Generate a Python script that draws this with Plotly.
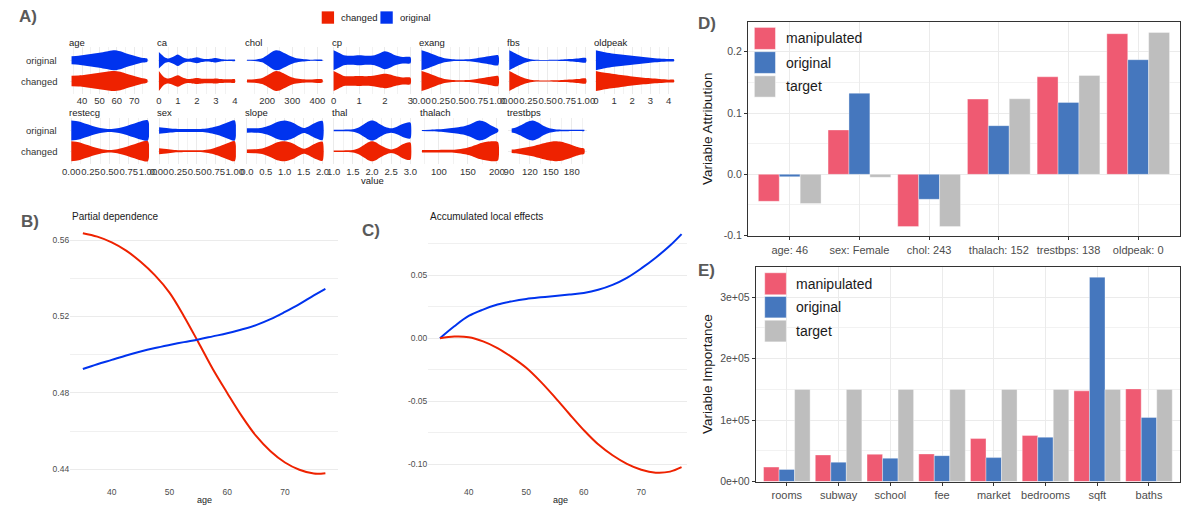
import plotly.graph_objects as go

# ======================= DATA =======================
# ---- Panel A: violin half-width profiles (relative)
age_x = [34, 38, 42, 46, 50, 54, 58, 62, 66, 70, 74, 77.5]
age_original = [0.4, 0.45, 0.55, 0.65, 0.75, 0.88, 1.0, 0.9, 0.65, 0.45, 0.25, 0.15]
age_changed = [0.53, 0.55, 0.62, 0.72, 0.82, 0.92, 1.0, 0.92, 0.7, 0.5, 0.3, 0.15]

ca_x = [0, 0.15, 0.3, 0.5, 0.75, 1.0, 1.25, 1.5, 1.75, 2.0, 2.25, 2.5, 2.75, 3.0, 3.25, 3.5, 3.75, 4.0]
ca_original = [0.83, 0.55, 0.3, 0.17, 0.35, 0.58, 0.3, 0.15, 0.2, 0.3, 0.18, 0.12, 0.16, 0.22, 0.12, 0.07, 0.07, 0.07]
ca_changed = [1.0, 0.62, 0.35, 0.25, 0.4, 0.57, 0.35, 0.2, 0.24, 0.3, 0.24, 0.22, 0.22, 0.25, 0.2, 0.17, 0.17, 0.17]

chol_x = [120, 150, 180, 200, 220, 235, 250, 270, 290, 310, 340, 370, 420]
chol_original = [0.05, 0.06, 0.2, 0.5, 0.85, 1.0, 0.95, 0.7, 0.45, 0.25, 0.12, 0.06, 0.05]
chol_changed = [0.15, 0.17, 0.3, 0.55, 0.85, 1.0, 0.95, 0.7, 0.45, 0.28, 0.18, 0.15, 0.15]

cp_x = [0, 0.2, 0.4, 0.7, 1.0, 1.3, 1.6, 1.8, 2.0, 2.2, 2.4, 2.7, 3.0]
cp_original = [1.0, 0.75, 0.5, 0.45, 0.5, 0.45, 0.5, 0.7, 0.9, 0.75, 0.5, 0.33, 0.3]
cp_changed = [1.0, 0.75, 0.5, 0.48, 0.5, 0.48, 0.55, 0.65, 0.72, 0.65, 0.5, 0.35, 0.32]

exang_x = [0, 0.1, 0.2, 0.3, 0.4, 0.5, 0.6, 0.7, 0.8, 0.9, 1.0]
exang_original = [1.0, 0.75, 0.45, 0.2, 0.1, 0.08, 0.1, 0.18, 0.3, 0.42, 0.5]
exang_changed = [1.0, 0.75, 0.45, 0.2, 0.1, 0.07, 0.1, 0.18, 0.3, 0.42, 0.5]

fbs_x = [0, 0.1, 0.2, 0.3, 0.4, 0.5, 0.6, 0.7, 0.8, 0.9, 1.0]
fbs_original = [1.0, 0.6, 0.25, 0.08, 0.04, 0.04, 0.05, 0.08, 0.12, 0.17, 0.22]
fbs_changed = [1.0, 0.6, 0.27, 0.1, 0.06, 0.06, 0.08, 0.11, 0.15, 0.2, 0.25]

oldpeak_x = [0, 0.5, 1, 1.5, 2, 2.5, 3, 3.5, 4, 4.3]
oldpeak_original = [1.0, 0.8, 0.65, 0.55, 0.45, 0.35, 0.25, 0.17, 0.12, 0.1]
oldpeak_changed = [1.0, 0.82, 0.7, 0.57, 0.45, 0.35, 0.27, 0.2, 0.14, 0.12]

restecg_x = [0, 0.1, 0.2, 0.3, 0.4, 0.5, 0.6, 0.7, 0.8, 0.9, 1.0]
restecg_original = [1.0, 0.9, 0.65, 0.4, 0.22, 0.15, 0.22, 0.4, 0.65, 0.9, 1.0]
restecg_changed = [1.0, 0.9, 0.65, 0.4, 0.2, 0.12, 0.2, 0.4, 0.65, 0.9, 1.0]

sex_x = [0, 0.1, 0.2, 0.3, 0.4, 0.5, 0.6, 0.7, 0.8, 0.9, 1.0]
sex_original = [0.33, 0.25, 0.17, 0.15, 0.15, 0.15, 0.17, 0.3, 0.5, 0.8, 1.0]
sex_changed = [0.3, 0.22, 0.12, 0.1, 0.09, 0.09, 0.12, 0.25, 0.5, 0.8, 1.0]

slope_x = [0, 0.2, 0.4, 0.6, 0.8, 1.0, 1.2, 1.4, 1.5, 1.6, 1.8, 2.0]
slope_original = [0.22, 0.22, 0.28, 0.5, 0.85, 1.0, 0.8, 0.4, 0.25, 0.35, 0.75, 0.95]
slope_changed = [0.18, 0.2, 0.28, 0.55, 0.9, 1.0, 0.8, 0.4, 0.25, 0.35, 0.75, 0.95]

thal_x = [1.0, 1.25, 1.5, 1.65, 1.8, 1.9, 2.0, 2.1, 2.2, 2.35, 2.5, 2.65, 2.8, 3.0]
thal_original = [0.08, 0.08, 0.12, 0.3, 0.65, 0.9, 1.0, 0.9, 0.65, 0.35, 0.22, 0.38, 0.65, 0.8]
thal_changed = [0.08, 0.08, 0.12, 0.3, 0.65, 0.9, 1.0, 0.9, 0.65, 0.35, 0.18, 0.35, 0.7, 0.87]

thalach_x = [71, 85, 100, 115, 130, 145, 155, 162, 170, 180, 190, 197, 202]
thalach_original = [0.05, 0.08, 0.12, 0.2, 0.3, 0.45, 0.65, 0.85, 1.0, 0.85, 0.5, 0.3, 0.12]
thalach_changed = [0.13, 0.13, 0.13, 0.14, 0.17, 0.3, 0.45, 0.6, 0.78, 0.92, 1.0, 1.0, 0.9]

trestbps_x = [94, 100, 108, 116, 124, 132, 140, 148, 156, 165, 175, 185, 192, 198]
trestbps_original = [0.2, 0.3, 0.55, 0.85, 1.0, 0.8, 0.45, 0.22, 0.12, 0.08, 0.07, 0.06, 0.06, 0.06]
trestbps_changed = [0.17, 0.2, 0.3, 0.4, 0.5, 0.65, 0.8, 0.93, 1.0, 0.95, 0.75, 0.5, 0.35, 0.25]

# ---- Panel B: partial dependence
pd_age = [35, 37.5, 40, 42.5, 45, 47.5, 50, 52.5, 55, 57.5, 60, 62.5, 65, 67.5, 70, 72.5, 75, 77]
pd_changed = [0.5636, 0.5618, 0.5588, 0.5545, 0.5486, 0.5415, 0.5325, 0.5202, 0.5065, 0.4925,
              0.4800, 0.4680, 0.4575, 0.4495, 0.4436, 0.4398, 0.4378, 0.4380]
pd_original = [0.4925, 0.4950, 0.4973, 0.4996, 0.5017, 0.5035, 0.5051, 0.5066, 0.5080, 0.5096,
               0.5112, 0.5132, 0.5155, 0.5186, 0.5224, 0.5265, 0.5311, 0.5345]

# ---- Panel C: accumulated local effects
ale_age = [35, 37.5, 40, 42.5, 45, 47.5, 50, 52.5, 55, 57.5, 60, 62.5, 65, 67.5, 70, 72.5, 75, 77]
ale_original = [0.0, 0.0095, 0.0177, 0.0228, 0.0268, 0.0293, 0.0312, 0.0325, 0.0336, 0.0347,
                0.036, 0.0385, 0.0424, 0.048, 0.0555, 0.064, 0.0737, 0.0828]
ale_changed = [0.0, 0.0013, 0.0008, -0.0025, -0.0078, -0.0150, -0.0235, -0.0345, -0.0470, -0.0602,
               -0.0730, -0.0843, -0.0930, -0.0998, -0.1045, -0.1068, -0.1060, -0.1025]

# ---- Panel D: variable attribution
d_features = ["age: 46", "sex: Female", "chol: 243", "thalach: 152", "trestbps: 138", "oldpeak: 0"]
d_manipulated = [-0.044, 0.0724, -0.0853, 0.1228, 0.1592, 0.2295]
d_original = [-0.0038, 0.1324, -0.0407, 0.0794, 0.1174, 0.1871]
d_target = [-0.0477, -0.0048, -0.0853, 0.1233, 0.1614, 0.2316]

# ---- Panel E: variable importance
e_features = ["rooms", "subway", "school", "fee", "market", "bedrooms", "sqft", "baths"]
e_manipulated = [23500, 43300, 44400, 44900, 70000, 74900, 147600, 150800]
e_original = [19800, 31500, 38000, 42200, 39000, 72200, 332600, 104300]
e_target = [150000, 150000, 150000, 150000, 150000, 150000, 150000, 150000]

# ======================= STYLE / LAYOUT =======================
W, H = 1189, 509
FONT = "Liberation Sans, Arial, sans-serif"
RED, BLUE = "#EE2200", "#0033EE"
C_MANIP, C_ORIG, C_TARGET = "#EF5A72", "#4577BE", "#BEBEBE"
GRID = "#EBEBEB"
HW = 0.48  # violin max half-width (y units)


def xd(a, b):
    return [a / W, b / W]


def yd(top, bottom):
    return [1 - bottom / H, 1 - top / H]


def px(x):
    return x / W


def py(y):
    return 1 - y / H


profiles = {
    "age": (age_x, age_original, age_changed),
    "ca": (ca_x, ca_original, ca_changed),
    "chol": (chol_x, chol_original, chol_changed),
    "cp": (cp_x, cp_original, cp_changed),
    "exang": (exang_x, exang_original, exang_changed),
    "fbs": (fbs_x, fbs_original, fbs_changed),
    "oldpeak": (oldpeak_x, oldpeak_original, oldpeak_changed),
    "restecg": (restecg_x, restecg_original, restecg_changed),
    "sex": (sex_x, sex_original, sex_changed),
    "slope": (slope_x, slope_original, slope_changed),
    "thal": (thal_x, thal_original, thal_changed),
    "thalach": (thalach_x, thalach_original, thalach_changed),
    "trestbps": (trestbps_x, trestbps_original, trestbps_changed),
}

q = ["0.00", "0.25", "0.50", "0.75", "1.00"]
qv = [0, 0.25, 0.5, 0.75, 1]
# name, row, left px, right px, range, tickvals, ticktext, minor dtick
facets = [
    ("age", 0, 63, 143, [33.2, 78.5], [40, 50, 60, 70], None, 5),
    ("ca", 0, 152, 231, [-0.05, 4.05], [0, 1, 2, 3, 4], None, 0.5),
    ("chol", 0, 241, 320, [115, 425], [200, 300, 400], None, 50),
    ("cp", 0, 329, 409, [-0.04, 3.04], [0, 1, 2, 3], None, 0.5),
    ("exang", 0, 418, 498, [-0.015, 1.015], qv, q, 0.125),
    ("fbs", 0, 507, 587, [-0.015, 1.015], qv, q, 0.125),
    ("oldpeak", 0, 595, 676, [-0.05, 4.35], [0, 1, 2, 3, 4], None, 0.5),
    ("restecg", 1, 63, 143, [-0.015, 1.015], qv, q, 0.125),
    ("sex", 1, 152, 231, [-0.015, 1.015], qv, q, 0.125),
    ("slope", 1, 241, 320, [-0.03, 2.03], [0, 0.5, 1, 1.5, 2], ["0.0", "0.5", "1.0", "1.5", "2.0"], 0.25),
    ("thal", 1, 329, 409, [0.97, 3.03], [1, 1.5, 2, 2.5, 3], ["1.0", "1.5", "2.0", "2.5", "3.0"], 0.25),
    ("thalach", 1, 419, 498, [70, 204], [100, 150, 200], None, 25),
    ("trestbps", 1, 507, 587, [89, 202], [90, 120, 150, 180], None, 15),
]

fig = go.Figure()
lay = dict(
    width=W, height=H, margin=dict(l=0, r=0, t=0, b=0),
    paper_bgcolor="white", plot_bgcolor="white", showlegend=False,
    font=dict(family=FONT, size=10, color="#333333"),
    barmode="group", bargap=0.1, bargroupgap=0,
)
annotations = []
shapes = []


def ann(text, x, y, size, color="#1A1A1A", xanchor="left", yanchor="middle", angle=0):
    annotations.append(dict(text=text, x=px(x), y=py(y), xref="paper", yref="paper",
                            showarrow=False, xanchor=xanchor, yanchor=yanchor, textangle=angle,
                            font=dict(family=FONT, size=size, color=color)))


# ---------------- Panel A ----------------
for i, (name, row, l, r, rng, tv, tt, mdt) in enumerate(facets):
    n = i + 1
    xs_key = "xaxis" if n == 1 else f"xaxis{n}"
    ys_key = "yaxis" if n == 1 else f"yaxis{n}"
    xref = "x" if n == 1 else f"x{n}"
    yref = "y" if n == 1 else f"y{n}"
    top = 48 + row * 71
    lay[xs_key] = dict(domain=xd(l, r), range=rng, anchor=yref, tickvals=tv,
                       ticktext=tt if tt else [str(v) for v in tv], tickangle=0,
                       ticks="", showline=False, zeroline=False, showgrid=True,
                       gridcolor=GRID, gridwidth=0.8,
                       minor=dict(dtick=mdt, tick0=tv[0], showgrid=True, gridcolor="#F2F2F2", gridwidth=0.6),
                       tickfont=dict(family=FONT, size=9.5, color="#333333"))
    lay[ys_key] = dict(domain=yd(top, top + 47), range=[0.38, 2.62], anchor=xref,
                       tickvals=[1, 2], showticklabels=False, ticks="", zeroline=False,
                       showgrid=True, gridcolor=GRID, gridwidth=0.6)
    xv, wo, wc = profiles[name]
    for vals, center, color in [(wo, 2, BLUE), (wc, 1, RED)]:
        xs = list(xv) + list(xv)[::-1]
        ys = [center + HW * w for w in vals] + [center - HW * w for w in vals[::-1]]
        fig.add_trace(go.Scatter(x=xs, y=ys, mode="lines", fill="toself", fillcolor=color,
                                 line=dict(width=0, color=color, shape="spline", smoothing=0.8),
                                 xaxis=xref, yaxis=yref, hoverinfo="skip"))
    ann(name, l - 3, 43 + row * 71, 9.5)
    if l < 100:
        ann("original", 52, 61 + row * 71, 9.5, "#333333", xanchor="right")
        ann("changed", 52, 82 + row * 71, 9.5, "#333333", xanchor="right")

ann("value", 369, 183, 9.5, xanchor="center")
# legend A
shapes.append(dict(type="rect", xref="paper", yref="paper", x0=px(318), x1=px(330.5), y0=py(24), y1=py(11.5),
                   fillcolor=RED, line=dict(width=0)))
ann("changed", 336, 18, 9.5)
shapes.append(dict(type="rect", xref="paper", yref="paper", x0=px(377.5), x1=px(390), y0=py(24), y1=py(11.5),
                   fillcolor=BLUE, line=dict(width=0)))
ann("original", 395, 18, 9.5)

# ---------------- Panel B ----------------
lay["xaxis14"] = dict(domain=xd(63, 334), range=[32.8, 79.1], anchor="y14", tickvals=[40, 50, 60, 70],
                      ticks="", showgrid=False, zeroline=False, showline=False,
                      tickfont=dict(family=FONT, size=8.5, color="#4D4D4D"))
lay["yaxis14"] = dict(domain=yd(224, 491), range=[0.4317, 0.5698], anchor="x14",
                      tickvals=[0.44, 0.48, 0.52, 0.56], ticktext=["0.44", "0.48", "0.52", "0.56"],
                      ticks="", showgrid=True, gridcolor=GRID, gridwidth=1, zeroline=False,
                      minor=dict(tickvals=[0.46, 0.50, 0.54], showgrid=True, gridcolor="#F0F0F0", gridwidth=0.8),
                      tickfont=dict(family=FONT, size=8.5, color="#4D4D4D"))
fig.add_trace(go.Scatter(x=pd_age, y=pd_changed, mode="lines", line=dict(color=RED, width=2, shape="spline"),
                         xaxis="x14", yaxis="y14"))
fig.add_trace(go.Scatter(x=pd_age, y=pd_original, mode="lines", line=dict(color=BLUE, width=2, shape="spline"),
                         xaxis="x14", yaxis="y14"))
ann("Partial dependence", 63, 219, 10)
ann("age", 199, 506, 9, xanchor="center")

# ---------------- Panel C ----------------
lay["xaxis15"] = dict(domain=xd(426, 688), range=[32.97, 77.9], anchor="y15", tickvals=[40, 50, 60, 70],
                      ticks="", showgrid=False, zeroline=False, showline=False,
                      tickfont=dict(family=FONT, size=8.5, color="#4D4D4D"))
lay["yaxis15"] = dict(domain=yd(224, 491), range=[-0.1168, 0.0929], anchor="x15",
                      tickvals=[-0.1, -0.05, 0, 0.05], ticktext=["-0.10", "-0.05", "0.00", "0.05"],
                      ticks="", showgrid=True, gridcolor=GRID, gridwidth=1, zeroline=False,
                      minor=dict(tickvals=[-0.075, -0.025, 0.025, 0.075], showgrid=True, gridcolor="#F0F0F0",
                                 gridwidth=0.8),
                      tickfont=dict(family=FONT, size=8.5, color="#4D4D4D"))
fig.add_trace(go.Scatter(x=ale_age, y=ale_original, mode="lines", line=dict(color=BLUE, width=2, shape="spline"),
                         xaxis="x15", yaxis="y15"))
fig.add_trace(go.Scatter(x=ale_age, y=ale_changed, mode="lines", line=dict(color=RED, width=2, shape="spline"),
                         xaxis="x15", yaxis="y15"))
ann("Accumulated local effects", 426, 219, 10)
ann("age", 560, 506, 9, xanchor="center")

# ---------------- Panels D & E ----------------
frame_axis = dict(showline=True, mirror=True, linecolor="#333333", linewidth=1, ticks="outside", ticklen=3,
                  tickcolor="#333333", tickwidth=1, zeroline=False, showgrid=True, gridcolor=GRID, gridwidth=1)
lay["xaxis16"] = dict(frame_axis, domain=xd(750, 1188), range=[-0.6, 5.6], anchor="y16", type="category",
                      tickangle=0, tickfont=dict(family=FONT, size=11, color="#4D4D4D"))
lay["yaxis16"] = dict(frame_axis, domain=yd(22.7, 239.3), range=[-0.1014, 0.2479], anchor="x16",
                      tickvals=[-0.1, 0, 0.1, 0.2], ticktext=["-0.1", "0.0", "0.1", "0.2"],
                      minor=dict(tickvals=[-0.05, 0.05, 0.15], showgrid=True, gridcolor="#F2F2F2", gridwidth=0.7),
                      tickfont=dict(family=FONT, size=10.5, color="#4D4D4D"))
lay["xaxis17"] = dict(frame_axis, domain=xd(758, 1188), range=[-0.6, 7.6], anchor="y17", type="category",
                      tickangle=0, tickfont=dict(family=FONT, size=11, color="#4D4D4D"))
lay["yaxis17"] = dict(frame_axis, domain=yd(270, 487.3), range=[0, 349500], anchor="x17",
                      tickvals=[0, 100000, 200000, 300000], ticktext=["0e+00", "1e+05", "2e+05", "3e+05"],
                      minor=dict(tickvals=[50000, 150000, 250000], showgrid=True, gridcolor="#F2F2F2", gridwidth=0.7),
                      tickfont=dict(family=FONT, size=10.5, color="#4D4D4D"))

bar_line = dict(color="rgba(255,255,255,0.45)", width=0.8)
for cats, series, ax in [(d_features, [d_manipulated, d_original, d_target], "16"),
                         (e_features, [e_manipulated, e_original, e_target], "17")]:
    for vals, color, grp in zip(series, [C_MANIP, C_ORIG, C_TARGET], ["m", "o", "t"]):
        fig.add_trace(go.Bar(x=cats, y=vals, marker=dict(color=color, line=bar_line),
                             offsetgroup=grp, xaxis="x" + ax, yaxis="y" + ax))

# manual legends D / E
for (kx0, kx1, tx, rows) in [
    (756.5, 778, 787, [(27.7, 50, "manipulated", C_MANIP), (52.3, 74.3, "original", C_ORIG),
                       (76.7, 98.3, "target", C_TARGET)]),
    (767, 789, 797, [(276, 298.3, "manipulated", C_MANIP), (300, 321.7, "original", C_ORIG),
                     (324, 346, "target", C_TARGET)]),
]:
    for (t, b, label, color) in rows:
        shapes.append(dict(type="rect", xref="paper", yref="paper", x0=px(kx0), x1=px(kx1), y0=py(b), y1=py(t),
                           fillcolor=color, line=dict(color="rgba(255,255,255,0.5)", width=1)))
        ann(label, tx, (t + b) / 2, 14, "#1A1A1A")

ann("Variable Attribution", 709, 130, 13.5, "#1A1A1A", xanchor="center", angle=-90)
ann("Variable Importance", 709, 378, 13.5, "#1A1A1A", xanchor="center", angle=-90)

# panel letters
for letter, x, y in [("A)", 9, 17), ("B)", 11, 224), ("C)", 357, 233), ("D)", 697, 24), ("E)", 697, 274)]:
    ann("<b>" + letter + "</b>", x, y, 17, "#595959")

lay["annotations"] = annotations
lay["shapes"] = shapes
fig.update_layout(**lay)
fig.write_html("out.html", config={"displayModeBar": False},
               post_script="document.body.style.margin='0';document.body.style.overflow='hidden';")
